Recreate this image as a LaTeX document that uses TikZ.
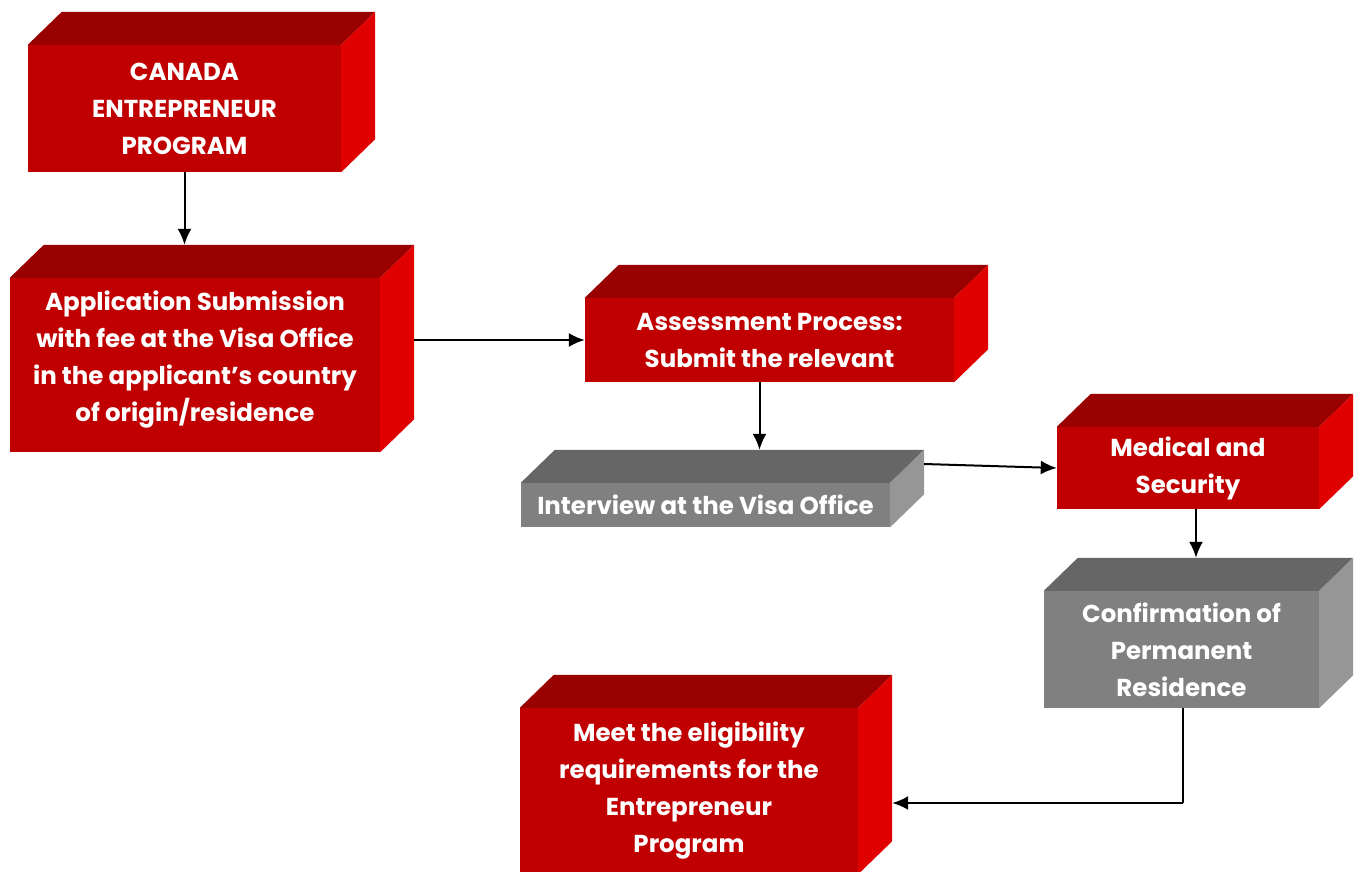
\documentclass[tikz,border=0pt]{standalone}
\usepackage{fontspec}
\setmainfont{Poppins}
\usetikzlibrary{arrows.meta}

\definecolor{redfront}{RGB}{192,0,0}
\definecolor{redtop}{RGB}{153,0,0}
\definecolor{redside}{RGB}{224,0,0}
\definecolor{grayfront}{RGB}{128,128,128}
\definecolor{graytop}{RGB}{102,102,102}
\definecolor{grayside}{RGB}{150,150,150}

\tikzset{
  face/.style={inner sep=0pt, align=center, text=white,
    font=\fontsize{24.5}{37}\selectfont\bfseries},
  redface/.style={face, fill=redfront},
  grayface/.style={face, fill=grayfront},
  arrow/.style={-{Latex[length=16pt,width=14pt]}, line width=2pt}
}

% top and side of a box, drawn behind its front node
\newcommand{\boxsides}[3]{%
  \fill[#2] (#1.north west) -- ([shift={(34pt,33pt)}]#1.north west)
    -- ([shift={(34pt,33pt)}]#1.north east) -- (#1.north east) -- cycle;
  \fill[#3] (#1.north east) -- ([shift={(34pt,33pt)}]#1.north east)
    -- ([shift={(34pt,33pt)}]#1.south east) -- (#1.south east) -- cycle;
  \coordinate (#1-back) at ([shift={(34pt,33pt)}]#1.north east);
}

\begin{document}
\begin{tikzpicture}[x=1pt,y=-1pt]
  \useasboundingbox (0,0) rectangle (1362,872);

  % boxes
  \node[redface, minimum width=313pt, minimum height=127pt] (can) at (184.5,108.5)
    {CANADA\\ENTREPRENEUR\\PROGRAM};
  \boxsides{can}{redtop}{redside}

  \node[redface, minimum width=370pt, minimum height=174pt] (app) at (195,365)
    {Application Submission\\with fee at the Visa Office\\in the applicant’s country\\of origin/residence\\[-20pt]};
  \boxsides{app}{redtop}{redside}

  \node[redface, minimum width=369pt, minimum height=84pt] (ass) at (769.5,340)
    {Assessment Process:\\Submit the relevant};
  \boxsides{ass}{redtop}{redside}

  \node[grayface, minimum width=369pt, minimum height=44pt] (int) at (705.5,505)
    {Interview at the Visa Office};
  \boxsides{int}{graytop}{grayside}

  \node[redface, minimum width=262pt, minimum height=82pt] (med) at (1188,468)
    {Medical and\\Security};
  \boxsides{med}{redtop}{redside}

  \node[grayface, minimum width=275pt, minimum height=117pt] (con) at (1181.5,649.5)
    {Confirmation of\\Permanent\\Residence};
  \boxsides{con}{graytop}{grayside}

  \node[redface, minimum width=338pt, minimum height=166pt] (meet) at (689,791)
    {Meet the eligibility\\requirements for the\\Entrepreneur\\Program};
  \boxsides{meet}{redtop}{redside}

  % arrows
  \draw[arrow] (can.south) -- (can.south |- app-back);
  \draw[arrow] (ass.west -| app-back) -- (ass.west);
  \draw[arrow] ([xshift=-10pt]ass.south) -- ([xshift=-10pt]ass.south |- int-back);
  \draw[arrow] ([yshift=4pt]med.west -| int-back) -- (med.west);
  \draw[arrow] ([xshift=8pt]med.south) -- ([xshift=8pt]med.south |- con-back);

  \coordinate (turn) at (1183,803);
  \draw[line width=2pt] (con.south -| turn) -- (turn);
  \draw[arrow] (turn) -- (turn -| meet-back);
\end{tikzpicture}
\end{document}
